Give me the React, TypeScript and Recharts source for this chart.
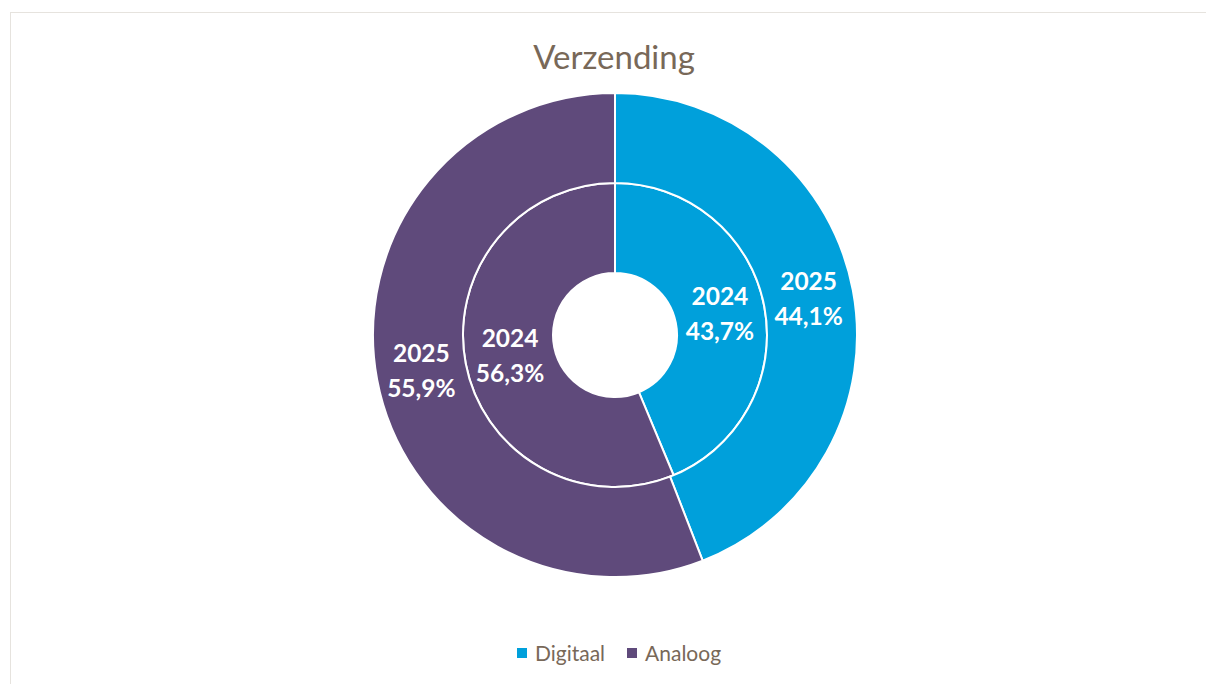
import React from 'react';
import { PieChart, Pie, Cell } from 'recharts';

// shipping split, digital vs. analogue
const categories = ['Digitaal', 'Analoog'];
const years = ['2024', '2025'];
const values2024 = [43.7, 56.3];
const values2025 = [44.1, 55.9];

const COLORS = ['#00A0DB', '#5F4A7B'];
const TEXT_COLOR = '#786858';
const FONT = 'Lato, "Open Sans", sans-serif';
const RADIAN = Math.PI / 180;

const toRows = (values: number[]) =>
  categories.map((name, i) => ({ name, value: values[i] }));

const fmt = (v: number) => `${v.toFixed(1).replace('.', ',')}%`;

const makeLabel = (year: string) => (props: any) => {
  const { cx, cy, midAngle, innerRadius, outerRadius, value } = props;
  const r = (innerRadius + outerRadius) / 2;
  const x = cx + r * Math.cos(-midAngle * RADIAN);
  const y = cy + r * Math.sin(-midAngle * RADIAN);
  return (
    <text
      x={x}
      y={y}
      fill="#fff"
      textAnchor="middle"
      fontFamily={FONT}
      fontWeight={700}
      fontSize={24.5}
    >
      <tspan x={x} dy={-9}>{year}</tspan>
      <tspan x={x} dy={35}>{fmt(value)}</tspan>
    </text>
  );
};

export default function App() {
  return (
    <div
      style={{
        position: 'absolute',
        left: 0,
        top: 0,
        width: 1206,
        height: 684,
        background: '#fff',
        overflow: 'hidden',
      }}
    >
      <div
        style={{
          position: 'absolute',
          left: 10,
          top: 12,
          width: 1220,
          height: 700,
          border: '1.5px solid #E6E3DE',
        }}
      />
      <div
        style={{
          position: 'absolute',
          left: 0,
          width: 1228,
          top: 36,
          textAlign: 'center',
          fontFamily: FONT,
          fontSize: 33,
          color: TEXT_COLOR,
        }}
      >
        Verzending
      </div>
      <div style={{ position: 'absolute', left: 0, top: 0 }}>
        <PieChart width={1206} height={684} margin={{ top: 0, right: 0, bottom: 0, left: 0 }}>
          <Pie
            data={toRows(values2024)}
            dataKey="value"
            nameKey="name"
            cx={615}
            cy={335}
            innerRadius={62}
            outerRadius={152}
            startAngle={90}
            endAngle={-270}
            stroke="#fff"
            strokeWidth={2}
            label={makeLabel(years[0])}
            labelLine={false}
            isAnimationActive={false}
          >
            {categories.map((c, i) => (
              <Cell key={c} fill={COLORS[i]} />
            ))}
          </Pie>
          <Pie
            data={toRows(values2025)}
            dataKey="value"
            nameKey="name"
            cx={615}
            cy={335}
            innerRadius={152}
            outerRadius={242}
            startAngle={90}
            endAngle={-270}
            stroke="#fff"
            strokeWidth={2}
            label={makeLabel(years[1])}
            labelLine={false}
            isAnimationActive={false}
          >
            {categories.map((c, i) => (
              <Cell key={c} fill={COLORS[i]} />
            ))}
          </Pie>
        </PieChart>
      </div>
      <div
        style={{
          position: 'absolute',
          left: 0,
          width: 1238,
          top: 640,
          display: 'flex',
          justifyContent: 'center',
          gap: 22,
          fontFamily: FONT,
          fontSize: 21,
          color: TEXT_COLOR,
        }}
      >
        {categories.map((c, i) => (
          <div key={c} style={{ display: 'flex', alignItems: 'center' }}>
            <span
              style={{
                display: 'inline-block',
                width: 10,
                height: 10,
                background: COLORS[i],
                marginRight: 8,
              }}
            />
            {c}
          </div>
        ))}
      </div>
    </div>
  );
}
